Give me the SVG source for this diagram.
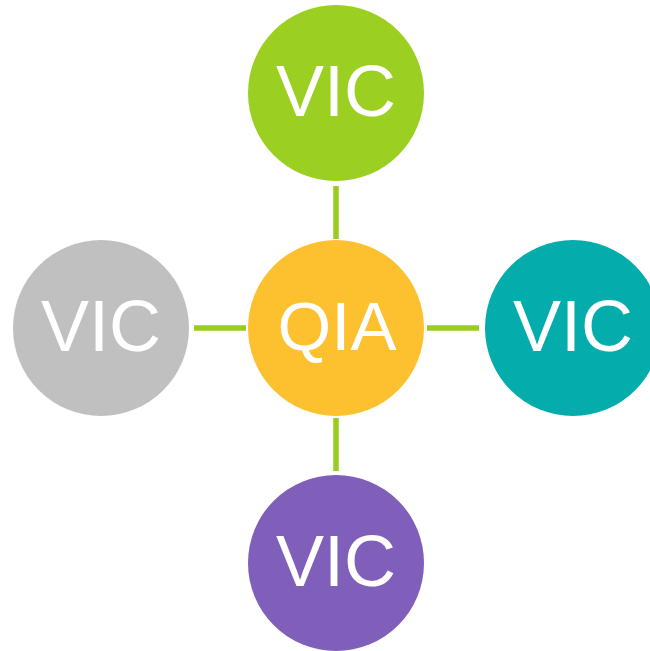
<svg xmlns="http://www.w3.org/2000/svg" width="650" height="651" viewBox="0 0 650 651">
<style>
.lbl{font-family:"Liberation Sans",Arial,sans-serif;fill:#fff;text-anchor:middle}
.conn{stroke:#9acd22;stroke-width:5.5;fill:none}
</style>
<rect width="650" height="651" fill="#fff"/>
<g id="connectors">
<line class="conn" x1="336" y1="186" x2="336" y2="239"/>
<line class="conn" x1="336" y1="418" x2="336" y2="471"/>
<line class="conn" x1="194" y1="328" x2="246" y2="328"/>
<line class="conn" x1="427" y1="328" x2="479" y2="328"/>
</g>
<g id="center">
<circle cx="336" cy="328" r="88" fill="#fdc02f"/>
<text class="lbl" x="337" y="349.5" font-size="69">QIA</text>
</g>
<g id="top">
<circle cx="336" cy="93" r="88" fill="#9bcf21"/>
<text class="lbl" x="336" y="116" font-size="72">VIC</text>
</g>
<g id="left">
<circle cx="101" cy="328" r="88" fill="#c0c0c0"/>
<text class="lbl" x="101" y="351" font-size="72">VIC</text>
</g>
<g id="right">
<circle cx="573" cy="328" r="88" fill="#04acac"/>
<text class="lbl" x="573" y="351" font-size="72">VIC</text>
</g>
<g id="bottom">
<circle cx="336" cy="563" r="88" fill="#7f5fba"/>
<text class="lbl" x="336" y="586" font-size="72">VIC</text>
</g>
</svg>
